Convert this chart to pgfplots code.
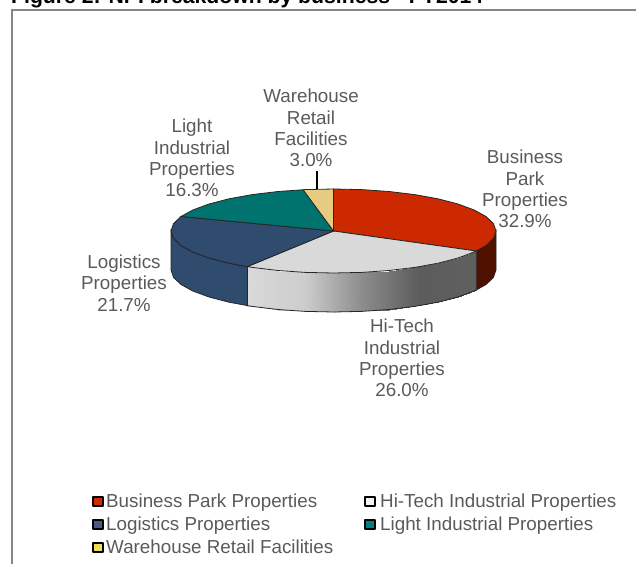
\documentclass[border=0pt]{standalone}
\usepackage{fontspec}
\setmainfont{Liberation Sans}
\usepackage{pgfplots}
\pgfplotsset{compat=1.18}

\definecolor{cRed}{HTML}{CC2900}
\definecolor{cRedSide}{HTML}{501000}
\definecolor{cGrey}{HTML}{D9D9D9}
\definecolor{cBlue}{HTML}{2F4B6E}
\definecolor{cTeal}{HTML}{00736E}
\definecolor{cSand}{HTML}{E5CC80}
\definecolor{cText}{HTML}{5A5A5A}
\definecolor{cFrame}{HTML}{868686}

\tikzset{
    lbl/.style={font=\fontsize{18.8bp}{21.4bp}\selectfont, text=cText, align=center, anchor=center, inner sep=0pt},
    leg/.style={font=\fontsize{18.8bp}{21.4bp}\selectfont, text=cText, anchor=base west, inner sep=0pt},
}
\pgfplotsset{
    swatch/.style={only marks, mark=square*, mark size=4.8bp, mark options={draw=black, line width=1.7bp, line join=round, fill=#1}},
}

\begin{document}
\begin{tikzpicture}
\path[use as bounding box, clip] (0,0) rectangle (636bp,564bp);
\begin{axis}[
    at={(0,0)}, anchor=south west,
    scale only axis, width=636bp, height=564bp,
    xmin=0, xmax=636, ymin=0, ymax=564, y dir=reverse,
    axis lines=none, clip=false,
    colormap={sideshade}{rgb255(0cm)=(217,217,217); rgb255(1cm)=(205,205,205); rgb255(2cm)=(140,140,140); rgb255(3cm)=(92,92,92); rgb255(4cm)=(96,96,96)},
    point meta min=247.4, point meta max=476.3,
]
% frame
\addplot[cFrame, line width=2.2bp] coordinates {(12,564) (12,10.3) (636,10.3)};

% side walls
\addplot[fill=cRedSide, draw=black!85, line width=.8bp] coordinates {
    (496,231) (493.5,238.3) (486.2,245.4) (476.3,251)
    (476.3,290) (486.2,284.4) (493.5,277.3) (496,270)} -- cycle;
\addplot[patch, patch type=rectangle, shader=interp, point meta=x] coordinates {
    (476.3,251) (474.2,252) (474.2,291) (476.3,290)
    (474.2,252) (458,258) (458,297) (474.2,291)
    (458,258) (438,263.2) (438,302.2) (458,297)
    (438,263.2) (414.75,267.4) (414.75,306.4) (438,302.2)
    (414.75,267.4) (389.1,270.5) (389.1,309.5) (414.75,306.4)
    (389.1,270.5) (361.7,272.4) (361.7,311.4) (389.1,309.5)
    (361.7,272.4) (333.5,273) (333.5,312) (361.7,311.4)
    (333.5,273) (305.3,272.4) (305.3,311.4) (333.5,312)
    (305.3,272.4) (277.9,270.5) (277.9,309.5) (305.3,311.4)
    (277.9,270.5) (252.25,267.4) (252.25,306.4) (277.9,309.5)
    (252.25,267.4) (247.4,266.6) (247.4,305.6) (252.25,306.4)
};
\addplot[draw=black!85, line width=.8bp] coordinates {
    (476.3,251) (476.3,290) (474.2,291) (458,297) (438,302.2) (414.75,306.4) (389.1,309.5)
    (361.7,311.4) (333.5,312) (305.3,311.4) (277.9,309.5) (252.25,306.4) (247.4,305.6) (247.4,266.6)};
\addplot[fill=cBlue, draw=black!85, line width=.8bp] coordinates {
    (247.4,266.6) (229,263.2) (209,258) (192.8,252) (180.8,245.4) (173.5,238.3) (171,231)
    (171,270) (173.5,277.3) (180.8,284.4) (192.8,291) (209,297) (229,302.2) (247.4,305.6)} -- cycle;

% top faces
\addplot[fill=cRed, draw=black!85, line width=.8bp] coordinates {
    (333.5,231) (333.5,189) (361.7,189.6) (389.1,191.5) (414.75,194.6) (438,198.8) (458,204)
    (474.2,210) (486.2,216.6) (493.5,223.7) (496,231) (493.5,238.3) (486.2,245.4) (476.3,251)} -- cycle;
\addplot[fill=cGrey, draw=black!85, line width=.8bp] coordinates {
    (333.5,231) (476.3,251) (474.2,252) (458,258) (438,263.2) (414.75,267.4) (389.1,270.5)
    (361.7,272.4) (333.5,273) (305.3,272.4) (277.9,270.5) (252.25,267.4) (247.4,266.6)} -- cycle;
\addplot[fill=cBlue, draw=black!85, line width=.8bp] coordinates {
    (333.5,231) (247.4,266.6) (229,263.2) (209,258) (192.8,252) (180.8,245.4) (173.5,238.3)
    (171,231) (173.5,223.7) (180.8,216.6) (181,216.5)} -- cycle;
\addplot[fill=cTeal, draw=black!85, line width=.8bp] coordinates {
    (333.5,231) (181,216.5) (192.8,210) (209,204) (229,198.8) (252.25,194.6) (277.9,191.5) (303.1,189.75)} -- cycle;
\addplot[fill=cSand, draw=black!85, line width=.8bp] coordinates {
    (333.5,231) (303.1,189.75) (305.3,189.6) (333.5,189)} -- cycle;

% leader line
\addplot[black, line width=1.8bp] coordinates {(317,171) (317,189)};

% legend swatches
\addplot[swatch=cRed!95!orange] coordinates {(98,501.5)};
\addplot[swatch=white!90!gray] coordinates {(370,501.5)};
\addplot[swatch=cBlue!90!white] coordinates {(98,524.5)};
\addplot[swatch=teal] coordinates {(370,524.5)};
\addplot[swatch=cSand!70!yellow] coordinates {(98,547.5)};

% title and labels
\node[anchor=base west, inner sep=0pt, font=\fontsize{21.2bp}{24bp}\selectfont\bfseries] at (11,3.5) {Figure 2: NPI breakdown by business - FY2014};
\node[lbl] at (311,128) {Warehouse\\Retail\\Facilities\\3.0\%};
\node[lbl] at (192,158) {Light\\Industrial\\Properties\\16.3\%};
\node[lbl] at (525,189) {Business\\Park\\Properties\\32.9\%};
\node[lbl] at (124,283) {Logistics\\Properties\\21.7\%};
\node[lbl] at (402,358) {Hi-Tech\\Industrial\\Properties\\26.0\%};

\node[leg] at (106,507.5) {Business Park Properties};
\node[leg] at (380,507.5) {Hi-Tech Industrial Properties};
\node[leg] at (106,530.5) {Logistics Properties};
\node[leg] at (380,530.5) {Light Industrial Properties};
\node[leg] at (106,553.5) {Warehouse Retail Facilities};
\end{axis}
\end{tikzpicture}
\end{document}
